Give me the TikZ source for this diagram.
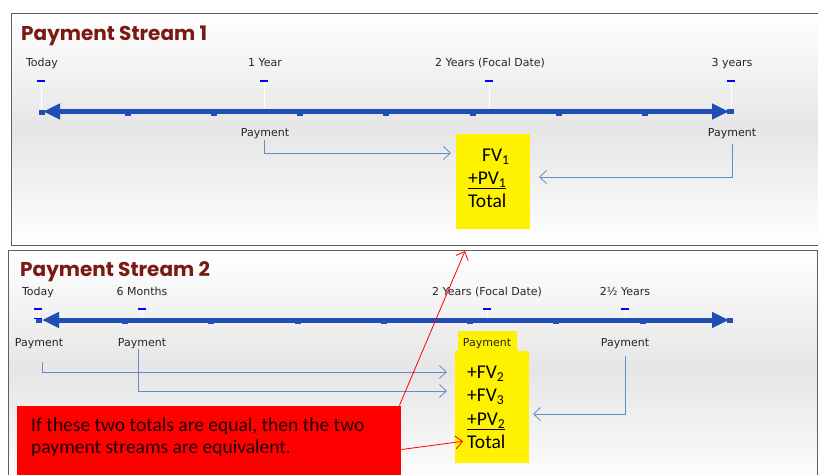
\documentclass[tikz,border=0pt]{standalone}
\usepackage{fontspec}
\setmainfont{Carlito}
\newfontfamily\labfont{DejaVu Sans}
\newfontfamily\titfont{Poppins}
\usetikzlibrary{arrows.meta}
\definecolor{tlblue}{RGB}{31,78,180}
\definecolor{dashblue}{RGB}{0,0,255}
\definecolor{connblue}{RGB}{96,140,200}
\definecolor{titred}{RGB}{122,26,18}
\definecolor{framegray}{RGB}{95,95,95}
\tikzset{
  x=1pt, y=-1pt,
  lab/.style={font=\labfont\fontsize{11}{13}\selectfont, inner sep=0pt, text=black!85, anchor=base},
  titletxt/.style={font=\titfont\bfseries\fontsize{20}{23}\selectfont, text=titred, inner sep=0pt, anchor=base west},
  boxtxt/.style={font=\fontsize{19.5}{23}\selectfont, inner sep=0pt, anchor=base west},
  notetxt/.style={font=\fontsize{19.5}{23}\selectfont, inner sep=0pt, anchor=base west, text=black!90!red},
  ybox/.style={fill=yellow, draw=none, inner sep=0pt, anchor=north west},
  timeline/.style={line width=5pt, draw=tlblue, {Triangle[length=17pt,width=15pt]}-{Triangle[length=17pt,width=15pt]}},
  conn/.style={draw=connblue, line width=0.8pt, -{Straight Barb[length=7pt,width=13pt]}},
  redconn/.style={draw=red, line width=0.8pt, -{Straight Barb[length=7pt,width=13pt]}},
  framebox/.style={draw=framegray, line width=1pt},
}
\begin{document}
\begin{tikzpicture}
\useasboundingbox (0,0) rectangle (818,474);
\clip (0,0) rectangle (818,474);
\fill[white] (0,0) rectangle (818,474);

% ---------- Frame 1 ----------
\shade[top color=white, bottom color=white, middle color=black!10] (11,13) rectangle (830,245);
\draw[framebox] (830,13) -- (11,13) -- (11,245) -- (830,245);
\node[titletxt] (title1) at (21,40) {Payment Stream 1};

% dashes and white guide lines
\foreach \x in {41,264,489,731}{
  \draw[white, line width=0.6pt] (\x,82) -- (\x,109);
  \fill[dashblue] (\x-4,80) rectangle (\x+4,82);
}
% timeline 1
\coordinate (tl1l) at (43,111.5);
\coordinate (tl1r) at (729,111.5);
\draw[timeline] (tl1l) -- (tl1r);
\fill[tlblue] (39,110) rectangle (45,115);
\fill[tlblue] (727,109) rectangle (734,114);
\foreach \x in {128,214,300,386,473,559,645}{
  \fill[tlblue] (\x-3,113) rectangle (\x+3,116);
}
\fill[tlblue] (261,109) rectangle (268,113);

\node[lab] (today1) at (42,66) {Today};
\node[lab] (year1) at (265,66) {1 Year};
\node[lab] (focal1) at (490,66) {2 Years (Focal Date)};
\node[lab] (year3) at (732,66) {3 years};
\node[lab] (p1a) at (265,136) {Payment};
\node[lab] (p1b) at (732,136) {Payment};

\node[ybox, minimum width=74pt, minimum height=95pt] (box1) at (456,134) {};
\node[boxtxt] (fv1) at (482,161) {FV\textsubscript{1}};
\node[boxtxt] (pv1) at (468,184) {\underline{+PV\textsubscript{1}}};
\node[boxtxt] (tot1) at (468,207) {Total};

\coordinate (a1) at (451,153);
\coordinate (a2) at (539,177);
\draw[conn] ([xshift=-1pt,yshift=-1.5pt]p1a.south) |- (a1);
\draw[conn] ([yshift=-6pt]p1b.south) |- (a2);

% ---------- Frame 2 ----------
\shade[top color=white, bottom color=white, middle color=black!10] (8,250) rectangle (817,490);
\draw[framebox] (8,490) -- (8,250) -- (817,250) -- (817,490);
\node[titletxt] (title2) at (20,276.5) {Payment Stream 2};

\foreach \x in {38,142,487,625}{
  \draw[white, line width=0.6pt] (\x,310) -- (\x,318);
  \fill[dashblue] (\x-4,308) rectangle (\x+4,310);
  \fill[dashblue] (\x-4,317.5) rectangle (\x+4,319);
}
\coordinate (tl2l) at (42,320);
\coordinate (tl2r) at (729,320);
\draw[timeline] (tl2l) -- (tl2r);
\fill[tlblue] (36,319) rectangle (42,323);
\fill[tlblue] (727,318) rectangle (733,323);
\foreach \x in {125,211,298,384,470,556,643}{
  \fill[tlblue] (\x-3,321) rectangle (\x+3,324);
}

\node[lab] (today2) at (38,295) {Today};
\node[lab] (months6) at (142,295) {6 Months};
\node[lab] (focal2) at (487,295) {2 Years (Focal Date)};
\node[lab] (years25) at (625,295) {2½ Years};

\fill[yellow] (458,331) rectangle (517,352);
\node[lab] (p2a) at (39,346) {Payment};
\node[lab] (p2b) at (142,346) {Payment};
\node[lab] (p2c) at (487,346) {Payment};
\node[lab] (p2d) at (625,346) {Payment};

\node[ybox, minimum width=74pt, minimum height=112pt] (box2) at (455,351) {};
\node[boxtxt] (fv2) at (467,378) {+FV\textsubscript{2}};
\node[boxtxt] (fv3) at (467,401) {+FV\textsubscript{3}};
\node[boxtxt] (pv2) at (467,425) {\underline{+PV\textsubscript{2}}};
\node[boxtxt] (tot2) at (467,448) {Total};

\coordinate (b1) at (447,372);
\coordinate (b2) at (447,391);
\coordinate (b3) at (533,414);
\draw[conn] ([xshift=3pt,yshift=-14pt]p2a.south) |- (b1);
\draw[conn] ([xshift=-4pt,yshift=-1pt]p2b.south) |- (b2);
\draw[conn] ([yshift=-8pt]p2d.south) |- (b3);

% ---------- Note ----------
\node[fill=red, inner sep=0pt, anchor=north west, minimum width=384pt, minimum height=80pt] (note) at (17,405.5) {};
\node[notetxt] (note1) at (31,431) {If these two totals are equal, then the two};
\node[notetxt] (note2) at (31,453.5) {payment streams are equivalent.};

\coordinate (r1) at (465,251);
\draw[redconn] ([xshift=-2pt]note.north east) -- (r1);
\draw[redconn] ([yshift=-44pt]note.north east) -- ([xshift=-4pt]tot2.west);
\end{tikzpicture}
\end{document}
